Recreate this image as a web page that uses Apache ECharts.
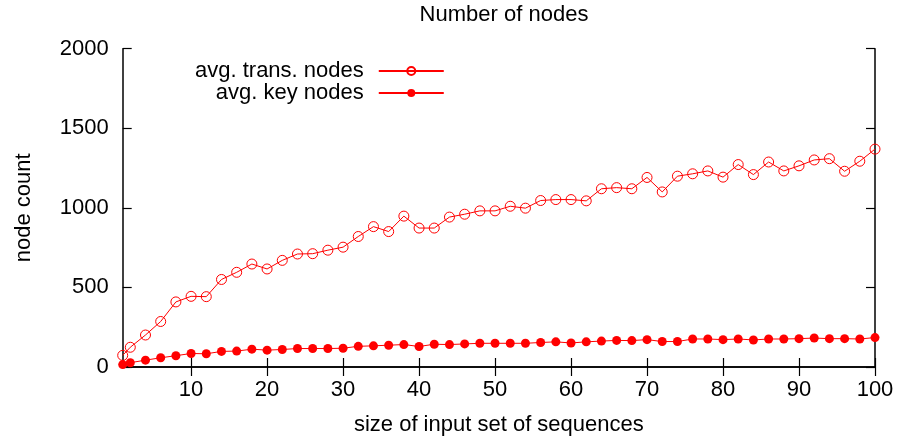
<!DOCTYPE html>
<html>
<head>
<meta charset="utf-8">
<script src="https://cdn.jsdelivr.net/npm/echarts@6/dist/echarts.min.js"></script>
<style>html,body{margin:0;padding:0;background:#fff;}#c{width:899px;height:441px;}</style>
</head>
<body>
<div id="c"></div>
<script>
const sizes = [1,2,4,6,8,10,12,14,16,18,20,22,24,26,28,30,32,34,36,38,40,42,44,46,48,50,52,54,56,58,60,62,64,66,68,70,72,74,76,78,80,82,84,86,88,90,92,94,96,98,100];
const transNodes = [73,124,201,286,409,444,442,550,595,647,616,670,710,712,734,753,820,882,851,948,873,873,942,960,981,981,1010,998,1046,1052,1052,1044,1120,1127,1120,1191,1100,1199,1214,1232,1193,1272,1209,1288,1232,1264,1301,1309,1230,1293,1369];
const keyNodes = [15,27,43,58,71,85,83,98,100,112,106,110,116,116,116,118,130,133,137,141,129,143,141,145,149,149,149,149,154,158,151,158,163,167,166,172,160,160,176,176,172,176,170,176,176,178,182,178,178,176,185];
const xTicks = [10,20,30,40,50,60,70,80,90,100];
const titleText = 'Number of nodes';
const xName = 'size of input set of sequences';
const yName = 'node count';
const seriesNames = ['avg. trans. nodes', 'avg. key nodes'];

const FONT = '"Liberation Sans", Arial, Helvetica, sans-serif';
const FS = 22;
const TL = 9;
const chart = echarts.init(document.getElementById('c'), null, {renderer: 'canvas'});
const axisLine = {show: true, lineStyle: {color: '#000', width: 1.5}};
chart.setOption({
  animation: false,
  backgroundColor: '#fff',
  textStyle: {fontFamily: FONT},
  title: {
    text: titleText, left: 499, top: -1, textAlign: 'center',
    textStyle: {fontFamily: FONT, fontSize: FS, fontWeight: 'normal', color: '#000'}
  },
  legend: {
    orient: 'vertical', left: 190, top: 55, align: 'right',
    itemWidth: 65, itemHeight: 10, itemGap: 0,
    data: seriesNames,
    textStyle: {fontFamily: FONT, fontSize: FS, lineHeight: 22, color: '#000', padding: [0, 10, 0, 0]}
  },
  grid: {left: 122.7, right: 24, top: 48.7, bottom: 71, containLabel: false},
  xAxis: [{
    type: 'value', min: 1, max: 100, position: 'bottom',
    name: xName, nameLocation: 'middle', nameGap: 47,
    nameTextStyle: {fontFamily: FONT, fontSize: FS, color: '#000'},
    axisLine: axisLine,
    axisTick: {show: true, inside: true, length: TL, customValues: xTicks, lineStyle: {color: '#000', width: 1.2}},
    axisLabel: {customValues: xTicks, margin: 12, fontFamily: FONT, fontSize: FS, color: '#000'},
    splitLine: {show: false}
  }, {
    type: 'value', min: 1, max: 100, position: 'top',
    axisLine: axisLine,
    axisTick: {show: true, inside: true, length: TL, customValues: xTicks, lineStyle: {color: '#000', width: 1.2}},
    axisLabel: {show: false},
    splitLine: {show: false}
  }],
  yAxis: [{
    type: 'value', min: 0, max: 2000, interval: 500, position: 'left',
    name: yName, nameLocation: 'middle', nameGap: 88, nameRotate: 90,
    nameTextStyle: {fontFamily: FONT, fontSize: FS, color: '#000'},
    axisLine: axisLine,
    axisTick: {show: true, inside: true, length: TL, lineStyle: {color: '#000', width: 1.2}},
    axisLabel: {margin: 14, fontFamily: FONT, fontSize: FS, color: '#000', formatter: v => String(v)},
    splitLine: {show: false}
  }, {
    type: 'value', min: 0, max: 2000, interval: 500, position: 'right',
    axisLine: axisLine,
    axisTick: {show: true, inside: true, length: TL, lineStyle: {color: '#000', width: 1.2}},
    axisLabel: {show: false},
    splitLine: {show: false}
  }],
  series: [{
    name: seriesNames[0], type: 'line', clip: false,
    data: sizes.map((x, i) => [x, transNodes[i]]),
    symbol: 'circle', symbolSize: 10,
    lineStyle: {color: '#ff0000', width: 1},
    itemStyle: {color: 'rgba(255,255,255,0)', borderColor: '#ff0000', borderWidth: 1}
  }, {
    name: seriesNames[1], type: 'line', clip: false,
    data: sizes.map((x, i) => [x, keyNodes[i]]),
    symbol: 'circle', symbolSize: 9,
    lineStyle: {color: '#ff0000', width: 1},
    itemStyle: {color: '#ff0000'}
  }]
});
</script>
</body>
</html>
